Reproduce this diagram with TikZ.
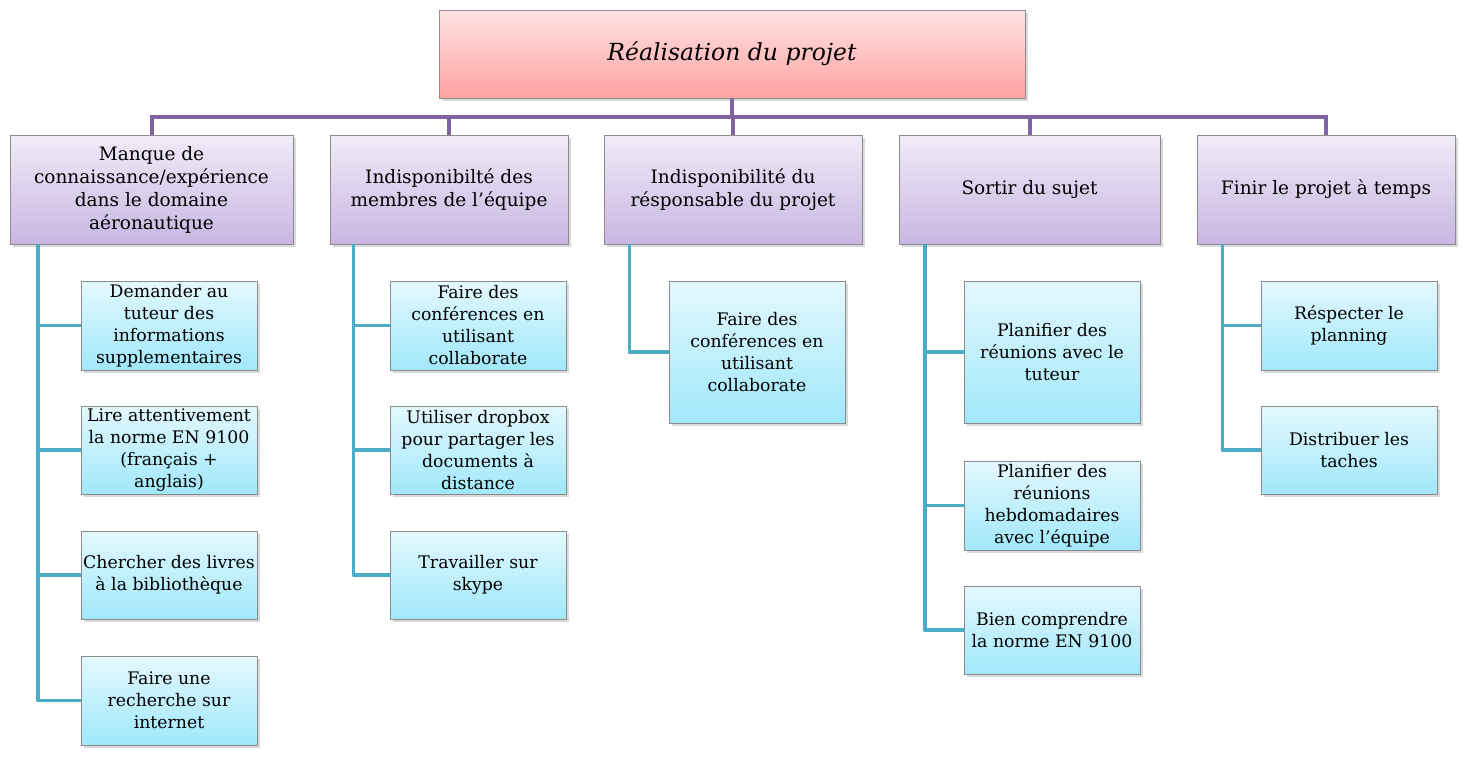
\documentclass[tikz,border=0pt]{standalone}
\usepackage{fontspec}
\setmainfont{DejaVu Serif}
\usetikzlibrary{shadows,calc}
\definecolor{bordgris}{HTML}{8C8C8C}
\definecolor{lienviolet}{HTML}{8064A2}
\definecolor{tigebleue}{HTML}{4BACC6}
\definecolor{roseclair}{HTML}{FFE2E2}
\definecolor{rosefonce}{HTML}{FFA2A2}
\definecolor{mauveclair}{HTML}{F0EBF8}
\definecolor{mauvefonce}{HTML}{C8B6E2}
\definecolor{cyanclair}{HTML}{E4F8FE}
\definecolor{cyanfonce}{HTML}{A0E8FB}
\tikzset{
  boite/.style={draw=bordgris, line width=0.8pt, align=center, inner sep=2pt,
    drop shadow={opacity=0.3, shadow xshift=2.5pt, shadow yshift=-2.5pt}},
  titre/.style={boite, top color=roseclair, bottom color=rosefonce,
    minimum width=586pt, minimum height=88pt, font=\fontsize{23.5}{28}\selectfont\itshape},
  risque/.style={boite, top color=mauveclair, bottom color=mauvefonce,
    minimum height=109pt, font=\fontsize{18.5}{23}\selectfont},
  action/.style={boite, top color=cyanclair, bottom color=cyanfonce,
    minimum width=176pt, font=\fontsize{17.3}{22}\selectfont},
  lien/.style={draw=lienviolet, line width=4pt},
  tige/.style={draw=tigebleue, line width=3.5pt, line join=round}
}

\begin{document}
\begin{tikzpicture}[x=1pt, y=-1pt]
\useasboundingbox (0,0) rectangle (1463,758);
%Le titre
	\node[titre] (titre) at (732,54) {Réalisation du projet};
%Les risques
	\node[risque, minimum width=283pt] (b1) at (151.5,189.5) {Manque de\\connaissance/expérience\\dans le domaine\\aéronautique};
	\node[risque, minimum width=238pt] (b2) at (449,189.5) {Indisponibilté des\\membres de l'équipe};
	\node[risque, minimum width=258pt] (b3) at (733,189.5) {Indisponibilité du\\résponsable du projet};
	\node[risque, minimum width=261pt] (b4) at (1029.5,189.5) {Sortir du sujet};
	\node[risque, minimum width=258pt] (b5) at (1326,189.5) {Finir le projet à temps};
%Premiere colonne
	\node[action, minimum height=89pt] (c11) at (169,325.5) {Demander au\\tuteur des\\informations\\supplementaires};
	\node[action, minimum height=88pt] (c12) at (169,450) {Lire attentivement\\la norme EN 9100\\(français +\\anglais)};
	\node[action, minimum height=88pt] (c13) at (169,575) {Chercher des livres\\à la bibliothèque};
	\node[action, minimum height=89pt] (c14) at (169,700.5) {Faire une\\recherche sur\\internet};
%Deuxieme colonne
	\node[action, minimum height=89pt] (c21) at (478,325.5) {Faire des\\conférences en\\utilisant\\collaborate};
	\node[action, minimum height=88pt] (c22) at (478,450) {Utiliser dropbox\\pour partager les\\documents à\\distance};
	\node[action, minimum height=88pt] (c23) at (478,575) {Travailler sur\\skype};
%Troisieme colonne
	\node[action, minimum height=142pt] (c31) at (757,352) {Faire des\\conférences en\\utilisant\\collaborate};
%Quatrieme colonne
	\node[action, minimum height=142pt] (c41) at (1052,352) {Planifier des\\réunions avec le\\tuteur};
	\node[action, minimum height=89pt] (c42) at (1052,505.5) {Planifier des\\réunions\\hebdomadaires\\avec l'équipe};
	\node[action, minimum height=88pt] (c43) at (1052,630) {Bien comprendre\\la norme EN 9100};
%Cinquieme colonne
	\node[action, minimum height=89pt] (c51) at (1349,325.5) {Réspecter le\\planning};
	\node[action, minimum height=88pt] (c52) at (1349,450) {Distribuer les\\taches};
%Liens violets
	\coordinate (bus) at ($(titre.south)+(0,19)$);
	\foreach \b in {b1,b2,b3,b4,b5}
		\draw[lien] (titre.south) -- (bus) -| (\b.north);
%Tiges bleues
	\foreach \b/\liste in {b1/{c11,c12,c13,c14}, b2/{c21,c22,c23}, b3/{c31}, b4/{c41,c42,c43}, b5/{c51,c52}}{
		\coordinate (t\b) at ($(\b.south west)!0.1!(\b.south east)$);
		\foreach \c in \liste
			\draw[tige] (t\b) |- (\c.west);
	}
\end{tikzpicture}
\end{document}
